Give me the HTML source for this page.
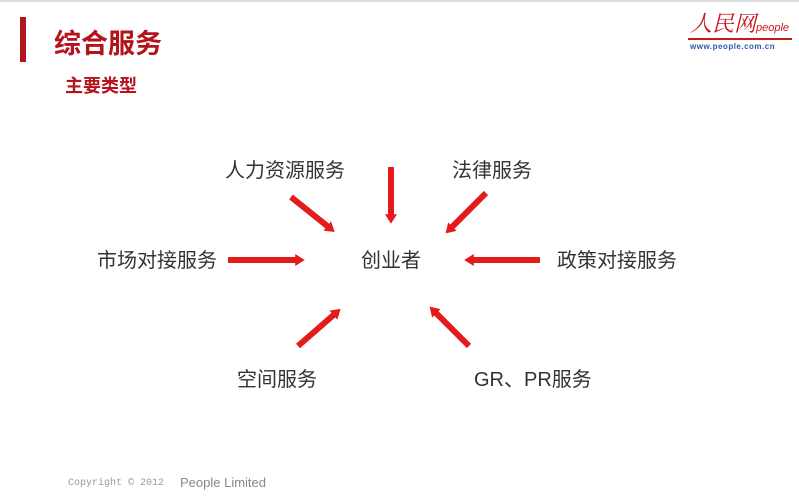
<!DOCTYPE html>
<html><head><meta charset="utf-8"><style>
body{margin:0;width:799px;height:499px;background:#fff;position:relative;overflow:hidden;font-family:"Liberation Sans","Noto Sans CJK SC",sans-serif}
.t{position:absolute;white-space:nowrap;line-height:1}
.l{font-size:20px;color:#333}
</style></head><body>
<div style="position:absolute;left:0;top:0;width:799px;height:2px;background:#ddd"></div>
<div style="position:absolute;left:20px;top:17px;width:6px;height:45px;background:#b0141c"></div>
<div class="t" style="left:54px;top:31px;font-size:27px;font-weight:bold;color:#b5121b">综合服务</div>
<div class="t" style="left:65px;top:77px;font-size:18px;font-weight:bold;color:#b5121b">主要类型</div>
<div class="t" style="left:690px;top:12px;font-size:22px;font-style:italic;color:#c8161d;font-family:'Noto Serif CJK SC',serif">人民网<span style="font-size:11px;font-family:'Liberation Sans'">people</span></div>
<div style="position:absolute;left:688px;top:38px;width:104px;height:2px;background:#c8161d"></div>
<div class="t" style="left:690px;top:43px;font-size:8px;color:#2a5ba8;letter-spacing:0.5px;font-weight:bold">www.people.com.cn</div>
<div class="t l" style="left:225px;top:161px">人力资源服务</div>
<div class="t l" style="left:452px;top:161px">法律服务</div>
<div class="t l" style="left:97px;top:251px">市场对接服务</div>
<div class="t l" style="left:361px;top:251px">创业者</div>
<div class="t l" style="left:557px;top:251px">政策对接服务</div>
<div class="t l" style="left:237px;top:370px">空间服务</div>
<div class="t l" style="left:474px;top:370px">GR、PR服务</div>
<div class="t" style="left:68px;top:479px;font-size:10px;color:#999;font-family:'Liberation Mono',monospace">Copyright © 2012</div>
<div class="t" style="left:180px;top:476px;font-size:13px;color:#888">People Limited</div>
<svg width="799" height="499" style="position:absolute;left:0;top:0">
<defs><marker id="a" markerWidth="2" markerHeight="2" refX="0.8" refY="1" orient="auto"><path d="M0,0L1.6,1L0,2z" fill="#e31b1b"/></marker></defs>
<g stroke="#e31b1b" stroke-width="6" marker-end="url(#a)">
<line x1="291" y1="197" x2="331" y2="229"/>
<line x1="391" y1="167" x2="391" y2="219"/>
<line x1="486" y1="193" x2="449" y2="230"/>
<line x1="228" y1="260" x2="300" y2="260"/>
<line x1="540" y1="260" x2="469" y2="260"/>
<line x1="298" y1="346" x2="337" y2="312"/>
<line x1="469" y1="346" x2="433" y2="310"/>
</g></svg>
</body></html>
